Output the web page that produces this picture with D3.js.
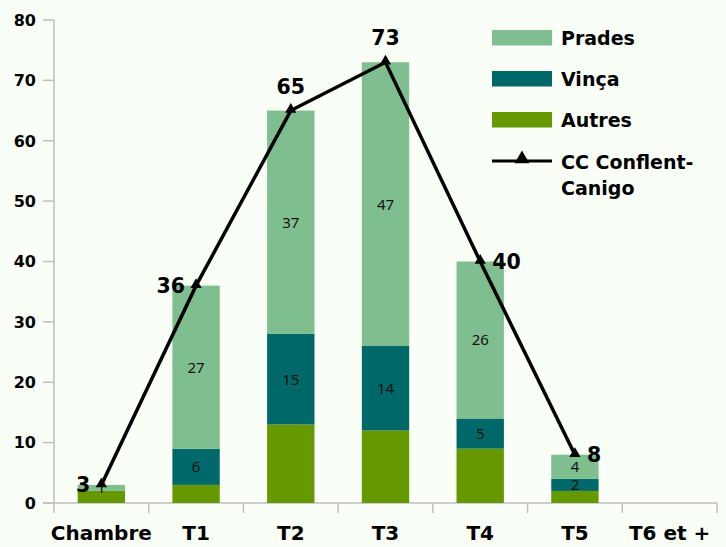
<!DOCTYPE html>
<html><head><meta charset="utf-8">
<script src="https://cdn.jsdelivr.net/npm/d3@7"></script>
<style>
html,body{margin:0;padding:0;background:#F9FFF6;}
svg{display:block;}
</style></head>
<body>
<svg id="chart" width="726" height="547"></svg>
<script>
const categories = ["Chambre","T1","T2","T3","T4","T5","T6 et +"];
const autres = [2,3,13,12,9,2,0];
const vinca  = [0,6,15,14,5,2,0];
const prades = [1,27,37,47,26,4,0];
const totals = [3,36,65,73,40,8];
const yTicks = [0,10,20,30,40,50,60,70,80];
const seriesNames = ["Autres","Vinça","Prades"];
const colors = {"Autres":"#669900","Vinça":"#006868","Prades":"#7FBF8F"};
const totalLabelPos = ["left","left","top","top","right","right"];

const svg = d3.select("#chart");
const x = d3.scaleBand().domain(categories).range([54,717]).paddingInner(0.5).paddingOuter(0.25);
const xb = d3.scaleBand().domain(categories).range([54,717]);
const y = d3.scaleLinear().domain([0,80]).range([503,20]);

// axes
const gx = svg.append("g").attr("transform","translate(0,503)");
gx.append("line").attr("x1",43).attr("x2",717).attr("stroke","#BFBFBF").attr("stroke-width",1.5);
const edges = categories.map(c=>xb(c)).concat([717]);
gx.selectAll("line.t").data(edges).join("line").attr("class","t")
  .attr("x1",d=>d).attr("x2",d=>d).attr("y1",0).attr("y2",10).attr("stroke","#BFBFBF").attr("stroke-width",1.5);
gx.selectAll("text").data(categories).join("text")
  .attr("x",d=>xb(d)+xb.bandwidth()/2).attr("y",37)
  .attr("text-anchor","middle").attr("font-family","DejaVu Sans").attr("font-weight","bold")
  .attr("font-size",20).attr("fill","#000").text(d=>d);

const gy = svg.append("g");
gy.append("line").attr("x1",54).attr("x2",54).attr("y1",y(80)).attr("y2",y(0)).attr("stroke","#BFBFBF").attr("stroke-width",1.5);
gy.selectAll("line.t").data(yTicks).join("line").attr("class","t")
  .attr("x1",43).attr("x2",54).attr("y1",d=>y(d)).attr("y2",d=>y(d)).attr("stroke","#BFBFBF").attr("stroke-width",1.5);
gy.selectAll("text").data(yTicks).join("text")
  .attr("x",36).attr("y",d=>y(d)).attr("dy","0.36em").attr("text-anchor","end")
  .attr("font-family","DejaVu Sans").attr("font-weight","bold").attr("font-size",16).text(d=>d);

// stacked bars
const table = categories.map((c,i)=>({cat:c,"Autres":autres[i],"Vinça":vinca[i],"Prades":prades[i]}));
const stack = d3.stack().keys(seriesNames)(table);
stack.forEach(layer=>{
  const g = svg.append("g");
  g.selectAll("rect").data(layer).join("rect")
    .attr("x",d=>x(d.data.cat)).attr("width",x.bandwidth())
    .attr("y",d=>y(d[1])).attr("height",d=>y(d[0])-y(d[1]))
    .attr("fill",colors[layer.key]);
  if(layer.key!=="Autres"){
    g.selectAll("text").data(layer.filter(d=>d[1]-d[0]>0)).join("text")
      .attr("x",d=>x(d.data.cat)+x.bandwidth()/2).attr("y",d=>y((d[0]+d[1])/2))
      .attr("dy","0.36em").attr("text-anchor","middle")
      .attr("font-family","Noto Sans").attr("font-size",15).attr("fill","#111")
      .text(d=>d[1]-d[0]);
  }
});

// line
const cx = i=>xb(categories[i])+xb.bandwidth()/2;
const line = d3.line().x((d,i)=>cx(i)).y(d=>y(d));
svg.append("path").datum(totals).attr("d",line).attr("fill","none").attr("stroke","#000").attr("stroke-width",3.5);
const tri = d3.symbol().type(d3.symbolTriangle).size(55);
svg.selectAll("path.m").data(totals).join("path").attr("class","m")
  .attr("d",tri).attr("transform",(d,i)=>`translate(${cx(i)},${y(d)-1})`).attr("fill","#000");
svg.selectAll("text.tot").data(totals).join("text").attr("class","tot")
  .attr("x",(d,i)=>{const p=totalLabelPos[i];return p==="left"?cx(i)-11:p==="right"?cx(i)+12:cx(i);})
  .attr("y",(d,i)=>totalLabelPos[i]==="top"?y(d)-17:y(d)+7)
  .attr("text-anchor",(d,i)=>{const p=totalLabelPos[i];return p==="left"?"end":p==="right"?"start":"middle";})
  .attr("font-family","DejaVu Sans").attr("font-weight","bold").attr("font-size",20.5).text(d=>d);

// legend
const leg = svg.append("g");
const legItems = ["Prades","Vinça","Autres"];
legItems.forEach((k,i)=>{
  const yy = 30 + i*41;
  leg.append("rect").attr("x",492).attr("y",yy).attr("width",60).attr("height",15.5).attr("fill",colors[k]);
  leg.append("text").attr("x",561).attr("y",yy+14.5).attr("font-family","DejaVu Sans").attr("font-weight","bold").attr("font-size",19).text(k);
});
leg.append("line").attr("x1",492).attr("x2",552).attr("y1",161).attr("y2",161).attr("stroke","#000").attr("stroke-width",3.2);
leg.append("path").attr("d",d3.symbol().type(d3.symbolTriangle).size(95)).attr("transform","translate(522,159)").attr("fill","#000");
const lt = leg.append("text").attr("font-family","DejaVu Sans").attr("font-weight","bold").attr("font-size",19);
lt.append("tspan").attr("x",561).attr("y",169).text("CC Conflent-");
lt.append("tspan").attr("x",561).attr("y",195).text("Canigo");
</script>
</body></html>
